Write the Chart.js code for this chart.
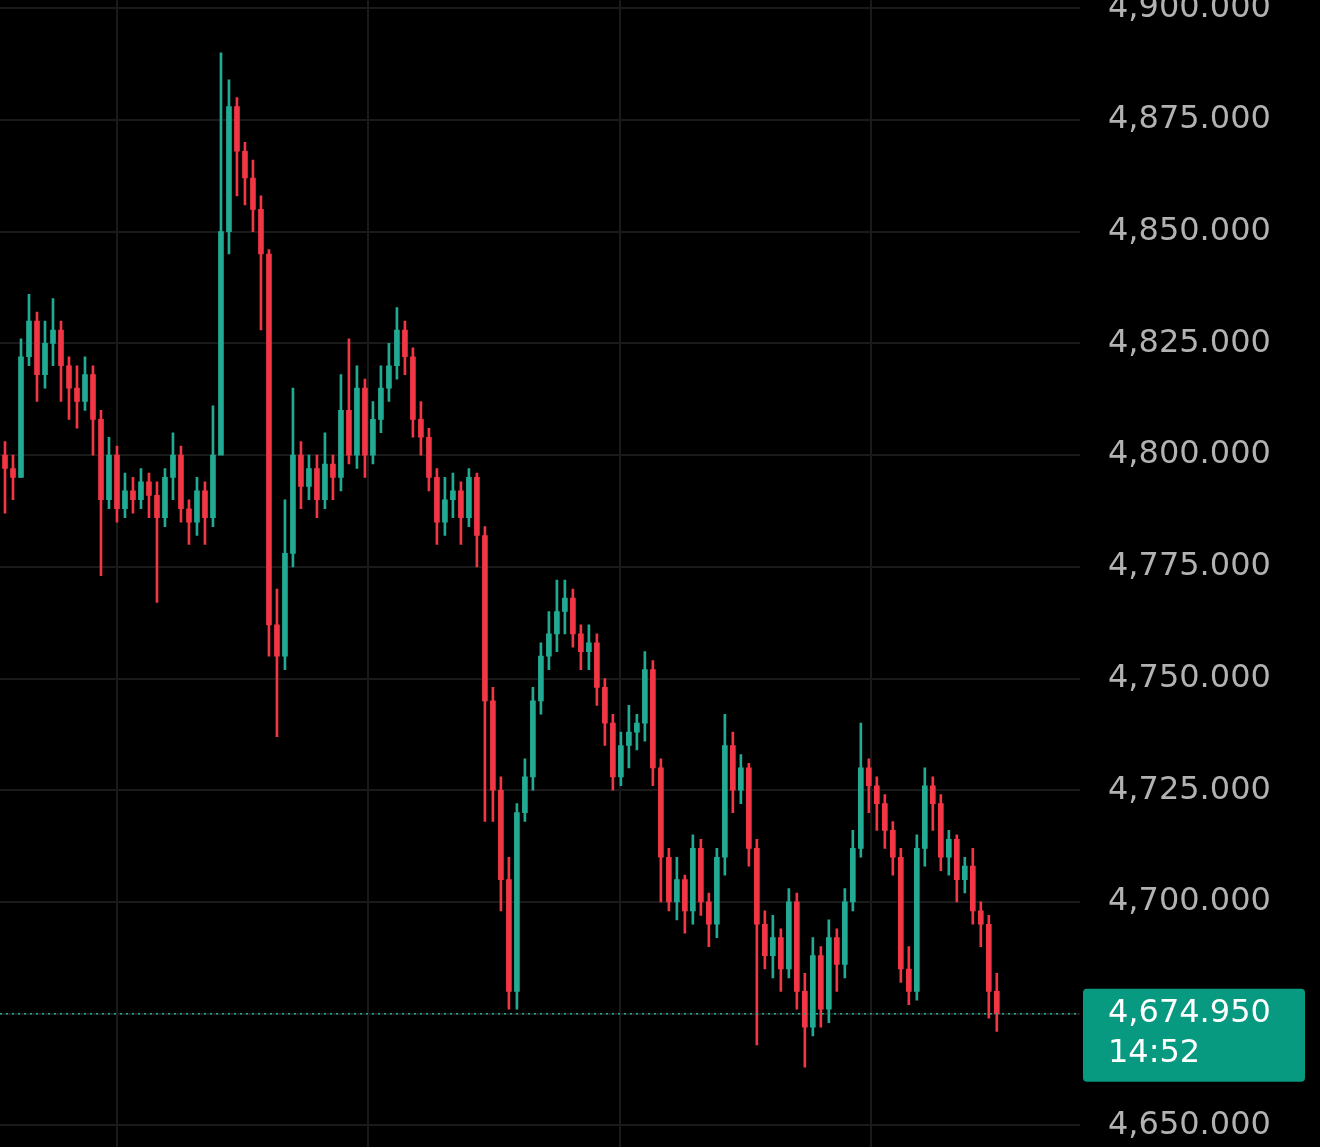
<!DOCTYPE html>
<html>
<head>
<meta charset="utf-8">
<script src="https://cdn.jsdelivr.net/npm/chart.js@4.4.1/dist/chart.umd.min.js"></script>
<style>
  html, body { margin: 0; padding: 0; background: #000; overflow: hidden; }
  #wrap { width: 1320px; height: 1241px; margin-top: -47px; }
</style>
</head>
<body>
<div id="wrap"><canvas id="c"></canvas></div>
<script>
// candle values
const opens = [4800,4797,4795,4822,4830,4818,4825,4828,4820,4815,4812,4818,4808,4790,4800,4788,4792,4790,4794,4791,4786,4795,4800,4788,4785,4792,4786,4800,4850,4878,4868,4862,4855,4845,4762,4755,4778,4800,4793,4797,4790,4798,4795,4810,4800,4815,4800,4808,4815,4820,4828,4822,4808,4804,4795,4785,4790,4792,4786,4795,4782,4745,4725,4705,4680,4720,4728,4745,4755,4760,4765,4768,4760,4756,4758,4748,4740,4728,4735,4738,4740,4752,4730,4710,4700,4705,4698,4712,4700,4695,4710,4735,4725,4730,4712,4695,4688,4692,4685,4700,4680,4672,4688,4676,4692,4686,4700,4712,4730,4726,4722,4716,4710,4685,4680,4712,4726,4722,4710,4714,4705,4708,4698,4695,4680];
const closes = [4797,4795,4822,4830,4818,4825,4828,4820,4815,4812,4818,4808,4790,4800,4788,4792,4790,4794,4791,4786,4795,4800,4788,4785,4792,4786,4800,4850,4878,4868,4862,4855,4845,4762,4755,4778,4800,4793,4797,4790,4798,4795,4810,4800,4815,4800,4808,4815,4820,4828,4822,4808,4804,4795,4785,4790,4792,4786,4795,4782,4745,4725,4705,4680,4720,4728,4745,4755,4760,4765,4768,4760,4756,4758,4748,4740,4728,4735,4738,4740,4752,4730,4710,4700,4705,4698,4712,4700,4695,4710,4735,4725,4730,4712,4695,4688,4692,4685,4700,4680,4672,4688,4676,4692,4686,4700,4712,4730,4726,4722,4716,4710,4685,4680,4712,4726,4722,4710,4714,4705,4708,4698,4695,4680,4674.95];
const highs = [4803,4800,4826,4836,4832,4830,4835,4830,4822,4820,4822,4820,4810,4804,4802,4796,4795,4797,4796,4794,4797,4805,4802,4790,4795,4794,4811,4890,4884,4880,4870,4866,4858,4846,4770,4790,4815,4803,4800,4800,4805,4800,4818,4826,4820,4817,4812,4820,4825,4833,4830,4824,4812,4806,4797,4795,4796,4794,4797,4796,4784,4748,4728,4710,4722,4732,4748,4758,4765,4772,4772,4770,4762,4762,4760,4750,4742,4738,4744,4742,4756,4754,4732,4712,4710,4706,4715,4714,4702,4712,4742,4738,4733,4731,4714,4698,4697,4694,4703,4702,4684,4692,4690,4696,4694,4703,4716,4740,4732,4728,4724,4718,4712,4690,4715,4730,4728,4724,4716,4715,4710,4712,4700,4697,4684];
const lows = [4787,4790,4795,4820,4812,4815,4820,4812,4808,4806,4810,4800,4773,4788,4785,4786,4787,4788,4786,4767,4784,4790,4785,4780,4782,4780,4784,4835,4845,4858,4856,4850,4828,4755,4737,4752,4775,4788,4790,4786,4788,4790,4792,4798,4797,4795,4798,4805,4812,4817,4818,4804,4800,4792,4780,4782,4786,4780,4784,4775,4718,4718,4698,4676,4676,4718,4725,4742,4752,4756,4760,4757,4752,4752,4744,4735,4725,4726,4730,4734,4736,4726,4700,4698,4696,4693,4695,4697,4690,4692,4706,4720,4722,4708,4668,4685,4683,4680,4683,4676,4663,4670,4672,4673,4680,4683,4698,4710,4720,4716,4712,4706,4682,4677,4678,4708,4716,4707,4706,4700,4702,4695,4690,4674,4671];
const yTicks = [4650,4675,4700,4725,4750,4775,4800,4825,4850,4875,4900];
const xGrid = [14, 45.375, 76.875, 108.25];
const lastPrice = 4674.95;
const lastTime = "14:52";

const green = "#22ab94", red = "#f23645";
const idx = closes.map((c, i) => i);
const colors = idx.map(i => closes[i] >= opens[i] ? green : red);

const lastLine = {
  id: "lastLine",
  afterDraw(chart) {
    const ctx = chart.ctx, y = chart.scales.y.getPixelForValue(lastPrice);
    ctx.save();
    ctx.strokeStyle = green;
    ctx.lineWidth = 1.5;
    ctx.setLineDash([2, 4]);
    ctx.beginPath(); ctx.moveTo(0, y); ctx.lineTo(1080, y); ctx.stroke();
    ctx.setLineDash([]);
    ctx.fillStyle = "#089981";
    ctx.beginPath(); ctx.roundRect(1083, y - 25, 222, 93, 4); ctx.fill();
    ctx.fillStyle = "#fff";
    ctx.font = "32px 'DejaVu Sans'";
    ctx.textBaseline = "middle";
    ctx.fillText(lastPrice.toLocaleString("en-US", {minimumFractionDigits: 3}), 1108, y);
    ctx.fillText(lastTime, 1108, y + 40);
    ctx.restore();
  }
};

new Chart(document.getElementById("c"), {
  type: "bar",
  data: {
    datasets: [
      {
        data: idx.map(i => ({x: i, y: [lows[i], highs[i]]})),
        backgroundColor: colors, barThickness: 2, minBarLength: 1,
      },
      {
        data: idx.map(i => ({x: i, y: [opens[i], closes[i]]})),
        backgroundColor: colors, barThickness: 5, minBarLength: 1.5,
      },
    ],
  },
  options: {
    responsive: true,
    maintainAspectRatio: false,
    animation: false,
    datasets: { bar: { grouped: false } },
    plugins: { legend: { display: false }, tooltip: { enabled: false } },
    scales: {
      x: {
        type: "linear", min: -0.625, max: 134.4, offset: false,
        afterBuildTicks: (s) => { s.ticks = xGrid.map(v => ({value: v})); },
        ticks: { display: false },
        grid: { color: "#1a1a1a", lineWidth: 2, drawTicks: false, offset: false },
        border: { display: false },
      },
      y: {
        position: "right", min: 4645.2, max: 4901.8,
        afterBuildTicks: (s) => { s.ticks = yTicks.map(v => ({value: v})); },
        afterFit: (s) => { s.width = 240; },
        ticks: {
          color: "#b2b2b2", font: { size: 32, family: "DejaVu Sans" }, padding: 28,
          callback: (v) => v.toLocaleString("en-US", {minimumFractionDigits: 3}),
        },
        grid: { color: "#1a1a1a", lineWidth: 2, drawTicks: false },
        border: { display: false },
      },
    },
  },
  plugins: [
    { id: "bg", beforeDraw(c) { c.ctx.save(); c.ctx.fillStyle = "#000"; c.ctx.fillRect(0, 0, c.width, c.height); c.ctx.restore(); } },
    lastLine,
  ],
});
</script>
</body>
</html>
